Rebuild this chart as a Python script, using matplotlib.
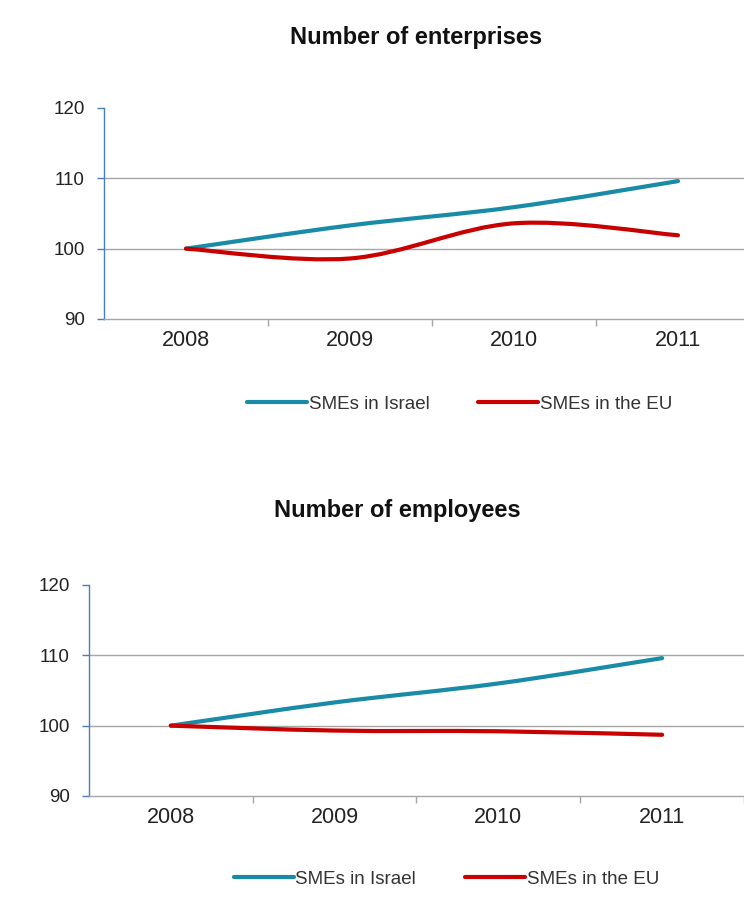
import matplotlib
matplotlib.use('Agg')
import matplotlib.pyplot as plt
from matplotlib.path import Path
from matplotlib.patches import PathPatch
from matplotlib.lines import Line2D

plt.rcParams['font.family'] = ['Liberation Sans', 'DejaVu Sans']

years = ['2008', '2009', '2010', '2011']
yticks = [90, 100, 110, 120]

# Number of enterprises (index, 2008 = 100)
ent_israel = [100, 103.3, 105.9, 109.6]
ent_eu = [100, 98.6, 103.6, 101.9]

# Number of employees (index, 2008 = 100)
emp_israel = [100, 103.3, 106.0, 109.6]
emp_eu = [100, 99.3, 99.2, 98.7]

labels = ['SMEs in Israel', 'SMEs in the EU']
TEAL = '#1a8ba6'
RED = '#c80000'


def smooth_path(ys):
    # Catmull-Rom style bezier, like Excel's "smoothed line"
    xs = list(range(len(ys)))
    pts = list(zip(xs, ys))
    verts = [pts[0]]
    codes = [Path.MOVETO]
    n = len(pts)
    for i in range(n - 1):
        p0 = pts[max(i - 1, 0)]
        p1 = pts[i]
        p2 = pts[i + 1]
        p3 = pts[min(i + 2, n - 1)]
        c1 = (p1[0] + (p2[0] - p0[0]) / 6.0, p1[1] + (p2[1] - p0[1]) / 6.0)
        c2 = (p2[0] - (p3[0] - p1[0]) / 6.0, p2[1] - (p3[1] - p1[1]) / 6.0)
        verts += [c1, c2, p2]
        codes += [Path.CURVE4] * 3
    return Path(verts, codes)


def draw_panel(ax, israel, eu):
    for ys, col in ((israel, TEAL), (eu, RED)):
        ax.add_patch(PathPatch(smooth_path(ys), fill=False, edgecolor=col,
                               lw=3.0, capstyle='round', zorder=3))
    ax.set_xlim(-0.5, len(years) - 0.5)
    ax.set_ylim(yticks[0], yticks[-1])
    for y in yticks[1:-1]:
        ax.axhline(y, color='#a6a6a6', lw=1.0, zorder=1)
    ax.set_yticks(yticks)
    ax.set_yticklabels([str(v) for v in yticks], fontsize=13.5, color='#222222')
    ax.set_xticks(range(len(years)))
    ax.set_xticklabels(years, fontsize=15.5, color='#222222')
    ax.set_xticks([i + 0.5 for i in range(len(years))], minor=True)
    ax.tick_params(axis='x', which='major', length=0, pad=8)
    ax.tick_params(axis='x', which='minor', length=5, color='#a6a6a6', width=1)
    ax.tick_params(axis='y', length=5, width=1, color='#4a7ebb', pad=9)
    ax.spines['top'].set_visible(False)
    ax.spines['right'].set_visible(False)
    ax.spines['left'].set_color('#4a7ebb')
    ax.spines['bottom'].set_color('#a6a6a6')
    ax.spines['left'].set_linewidth(1.0)
    ax.spines['bottom'].set_linewidth(1.0)


fig = plt.figure(figsize=(7.44, 8.99), dpi=100)

ax1 = fig.add_axes([0.1398, 0.6452, 0.8817, 0.2347])
draw_panel(ax1, ent_israel, ent_eu)
ax2 = fig.add_axes([0.1196, 0.1146, 0.8804, 0.2347])
draw_panel(ax2, emp_israel, emp_eu)

fig.text(0.559, 0.9588, 'Number of enterprises', ha='center', va='center',
         fontsize=17, fontweight='bold', color='#111111')
fig.text(0.534, 0.4327, 'Number of employees', ha='center', va='center',
         fontsize=17, fontweight='bold', color='#111111')

handles = [Line2D([], [], color=TEAL, lw=3.0, solid_capstyle='round'),
           Line2D([], [], color=RED, lw=3.0, solid_capstyle='round')]
for cx, cy in ((0.618, 0.5506), (0.600, 0.0222)):
    fig.legend(handles, labels, loc='center', bbox_to_anchor=(cx, cy), ncol=2,
               frameon=False, fontsize=13.5, handlelength=3.2, handletextpad=0.1,
               columnspacing=2.6, labelcolor='#333333')

fig.savefig('out.png', dpi=100)
